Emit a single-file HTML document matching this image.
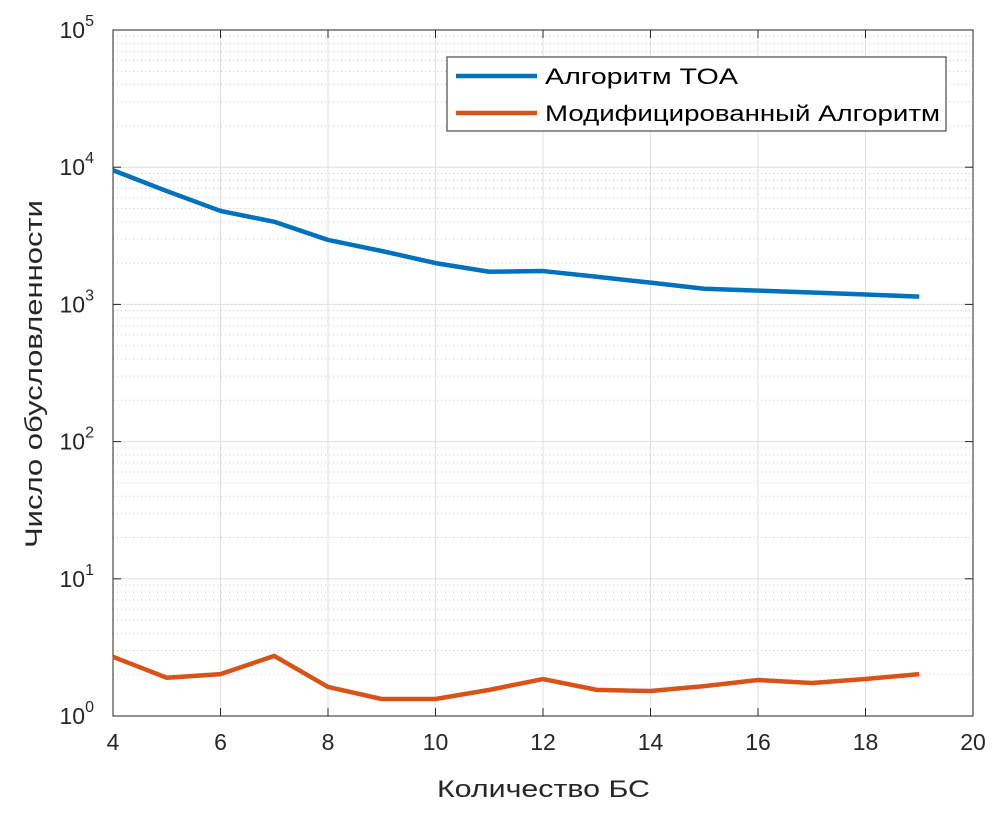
<!DOCTYPE html>
<html><head><meta charset="utf-8"><style>
body{margin:0;background:#fff;}
svg{display:block;font-family:"Liberation Sans","DejaVu Sans",sans-serif;}
</style></head><body>
<svg id="chart" width="1000" height="816" viewBox="0 0 1000 816">
<rect x="0" y="0" width="1000" height="816" fill="#fff"/>
<g id="grid"></g>
<g id="axes"></g>
<g id="series"></g>
<text x="437" y="797" font-size="24" fill="#262626" textLength="213" lengthAdjust="spacingAndGlyphs">Количество БС</text>
<text transform="translate(42,548) rotate(-90)" font-size="24" fill="#262626" textLength="348" lengthAdjust="spacingAndGlyphs">Число обусловленности</text>
<g>
<rect x="447" y="57" width="499" height="74" fill="#fff" stroke="#262626" stroke-width="1"/>
<g>
<line x1="456" y1="76" x2="537" y2="76" stroke="#0072BD" stroke-width="4.5"/>
<text x="545" y="84" font-size="22" fill="#000" textLength="193" lengthAdjust="spacingAndGlyphs">Алгоритм TOA</text></g>
<g>
<line x1="456" y1="113" x2="537" y2="113" stroke="#D95319" stroke-width="4.5"/>
<text x="545" y="121" font-size="22" fill="#000" textLength="395" lengthAdjust="spacingAndGlyphs">Модифицированный Алгоритм</text></g>
</g>
</svg>
<script>
const xCats = [4,5,6,7,8,9,10,11,12,13,14,15,16,17,18,19];
const toaValues = [9500,6700,4800,4000,2950,2450,2000,1730,1750,1590,1440,1300,1260,1220,1180,1140];
const modValues = [2.7,1.9,2.02,2.74,1.63,1.33,1.33,1.55,1.86,1.55,1.52,1.65,1.83,1.74,1.86,2.02];
const xTicks = [4,6,8,10,12,14,16,18,20];
const yDecades = [0,1,2,3,4,5];

const L=113,R=973,T=30,B=716;
const xs=v=>L+(v-4)/16*(R-L);
const ys=v=>B-Math.log10(v)/5*(B-T);
const NS="http://www.w3.org/2000/svg";
function mk(tag,attrs,parent){const e=document.createElementNS(NS,tag);for(const k in attrs)e.setAttribute(k,attrs[k]);parent.appendChild(e);return e;}
const grid=document.getElementById('grid'),axes=document.getElementById('axes'),series=document.getElementById('series');
mk('rect',{x:L,y:T,width:R-L,height:B-T,fill:'#fff'},grid);
for(let d=0;d<5;d++)for(let m=2;m<=9;m++){const y=ys(m*Math.pow(10,d));
 const l=mk('line',{x1:L,x2:R,y1:y,y2:y,stroke:'#c8c8c8','stroke-width':1,'stroke-dasharray':'1,3'},grid);
 
 }
xTicks.forEach(t=>{const x=xs(t);
 const l=mk('line',{x1:x,x2:x,y1:T,y2:B,stroke:'#dfdfdf','stroke-width':1},grid);
 
 
 mk('line',{x1:x,x2:x,y1:B,y2:B-8,stroke:'#262626'},axes);mk('line',{x1:x,x2:x,y1:T,y2:T+8,stroke:'#262626'},axes);
 const tx=mk('text',{x:x,y:B+34,'font-size':23,fill:'#262626','text-anchor':'middle'},axes);tx.textContent=t;
 
 });
yDecades.forEach(d=>{const y=ys(Math.pow(10,d));
 const l=mk('line',{x1:L,x2:R,y1:y,y2:y,stroke:'#dfdfdf','stroke-width':1},grid);
 
 
 mk('line',{x1:L,x2:L+8,y1:y,y2:y,stroke:'#262626'},axes);mk('line',{x1:R,x2:R-8,y1:y,y2:y,stroke:'#262626'},axes);
 const tx=mk('text',{x:L-19,y:y+8,'font-size':23,fill:'#262626','text-anchor':'end'},axes);
 
 
 tx.appendChild(document.createTextNode('10'));
 const s=mk('tspan',{dy:-12,'font-size':16},tx);s.textContent=d;});
mk('rect',{x:L,y:T,width:R-L,height:B-T,fill:'none',stroke:'#262626','stroke-width':1},axes);
function line(vals,color,name){const p=mk('polyline',{points:xCats.map((c,i)=>xs(c)+','+ys(vals[i])).join(' '),fill:'none',stroke:color,'stroke-width':4.5,'stroke-linejoin':'round'},series);
 
 }
line(toaValues,'#0072BD','toa-line');
line(modValues,'#D95319','modified-line');
</script>
</body></html>
